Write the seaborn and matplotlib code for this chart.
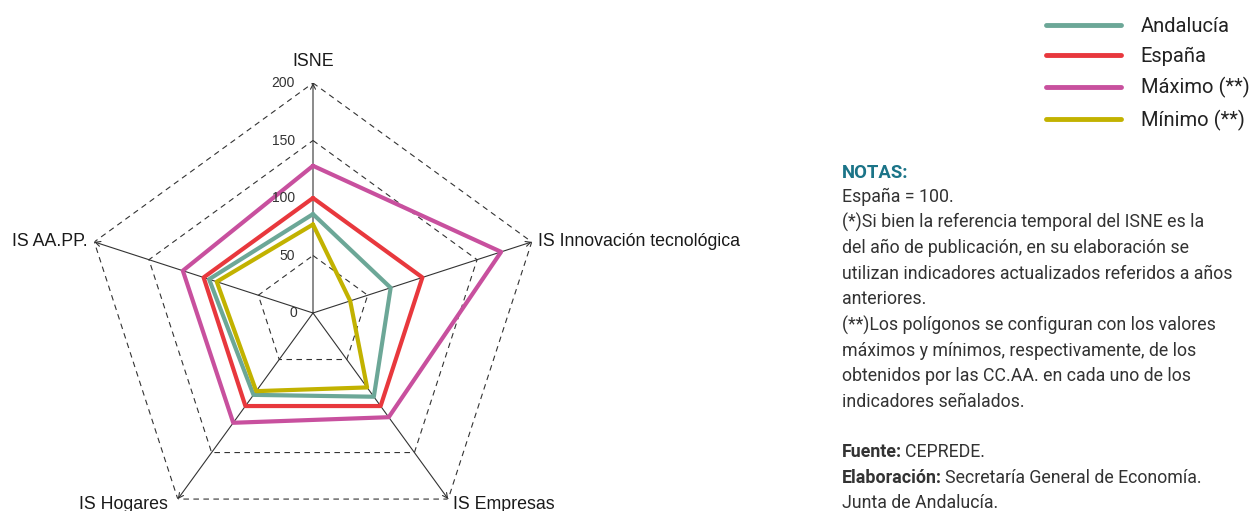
import numpy as np
import pandas as pd
import matplotlib
matplotlib.use('Agg')
import matplotlib.pyplot as plt
import seaborn as sns

categorias = ['ISNE', 'IS Innovación tecnológica', 'IS Empresas', 'IS Hogares', 'IS AA.PP.']
andalucia = [86, 71, 90, 88, 95]
espana = [100, 100, 100, 100, 100]
maximo = [128, 172, 112, 118, 119]
minimo = [77, 34, 80, 84, 88]
series = ['Andalucía', 'España', 'Máximo (**)', 'Mínimo (**)']
colores = ['#6ca797', '#e8383d', '#c8509e', '#c2b200']
ticks_r = [0, 50, 100, 150, 200]

notas = ['España = 100.',
         '(*)Si bien la referencia temporal del ISNE es la',
         'del año de publicación, en su elaboración se',
         'utilizan indicadores actualizados referidos a años',
         'anteriores.',
         '(**)Los polígonos se configuran con los valores',
         'máximos y mínimos, respectivamente, de los',
         'obtenidos por las CC.AA. en cada uno de los',
         'indicadores señalados.']

sns.set_theme(style='white')
plt.rcParams['font.family'] = ['Liberation Sans', 'DejaVu Sans']
narrow = ['Roboto', 'DejaVu Sans']
fs_notas = 12.8

theta = np.linspace(0, 2 * np.pi, len(categorias), endpoint=False)
theta_c = np.append(theta, 2 * np.pi)

rows = []
for name, vals in zip(series, [andalucia, espana, maximo, minimo]):
    for t, v in zip(theta_c, vals + vals[:1]):
        rows.append({'theta': t, 'valor': v, 'serie': name})
df = pd.DataFrame(rows)

fig = plt.figure(figsize=(12.54, 5.11), dpi=100)
ax = fig.add_axes([83 / 1254, (198 - 230) / 511, 460 / 1254, 460 / 511], projection='polar')
ax.set_theta_offset(np.pi / 2)
ax.set_theta_direction(-1)
ax.patch.set_alpha(0)

# pentagon grid (dashed) and spokes with arrows
for r in ticks_r[1:]:
    ax.plot(theta_c, [r] * len(theta_c), color='#333333', lw=0.8, ls=(0, (5, 4)), zorder=1)
for t in theta:
    ax.annotate('', xy=(t, 200), xytext=(t, 0),
                arrowprops=dict(arrowstyle='->', color='#333333', lw=0.8,
                                shrinkA=0, shrinkB=0, mutation_scale=9), zorder=2)

sns.lineplot(data=df, x='theta', y='valor', hue='serie', palette=dict(zip(series, colores)),
             hue_order=series, sort=False, estimator=None, lw=3, ax=ax, zorder=3)

ax.set_ylim(0, 200)
ax.grid(False)
ax.spines['polar'].set_visible(False)
ax.set_xticks([])
ax.set_yticks([])
ax.set_xlabel('')
ax.set_ylabel('')

for r in ticks_r:
    ax.annotate(str(r), xy=(0, r), xytext=(-18 if r else -16, 0), textcoords='offset pixels',
                ha='right', va='center', fontsize=10, color='#333333')

offsets = [(0, 22, 'center'), (6, 0, 'left'), (5, -5, 'left'), (-10, -5, 'right'), (-7, 0, 'right')]
for t, lab, (dx, dy, ha) in zip(theta, categorias, offsets):
    ax.annotate(lab, xy=(t, 200), xytext=(dx, dy), textcoords='offset pixels',
                ha=ha, va='center', fontsize=12.8, color='#1a1a1a', annotation_clip=False)

sns.move_legend(ax, 'upper left', bbox_to_anchor=(1046 / 1254, 1 - 17 / 511),
                bbox_transform=fig.transFigure, frameon=False, title=None,
                prop={'family': narrow, 'size': 14.5}, handlelength=3.7, handletextpad=1.0,
                labelspacing=0.55, borderpad=0, borderaxespad=0)
leg = ax.get_legend()
for h in leg.get_lines():
    h.set_linewidth(3.5)
    h.set_solid_capstyle('round')
for txt in leg.get_texts():
    txt.set_color('#222222')

x0 = 842 / 1254
fig.text(x0, 1 - 173 / 511, 'NOTAS:', family=narrow, fontsize=fs_notas + 0.5, fontweight='bold',
         color='#1b7488', va='center')
for i, linea in enumerate(notas):
    fig.text(x0, 1 - (197 + i * 25.6) / 511, linea, family=narrow, fontsize=fs_notas,
             color='#333333', va='center')

fuentes = [('Fuente:', 'CEPREDE.'), ('Elaboración:', 'Secretaría General de Economía.'), ('', 'Junta de Andalucía.')]
for i, (b, n) in enumerate(fuentes):
    y = 1 - (452 + i * 25.6) / 511
    if b:
        tb = fig.text(x0, y, b, family=narrow, fontsize=fs_notas, fontweight='bold', color='#333333', va='center')
        ax.annotate(n, xy=(1, 0.5), xycoords=tb, xytext=(3, 0), textcoords='offset pixels',
                    va='center', ha='left', family=narrow,
                    fontsize=fs_notas, color='#333333', annotation_clip=False)
    else:
        fig.text(x0, y, n, family=narrow, fontsize=fs_notas, color='#333333', va='center')

fig.savefig('out.png', dpi=100)
